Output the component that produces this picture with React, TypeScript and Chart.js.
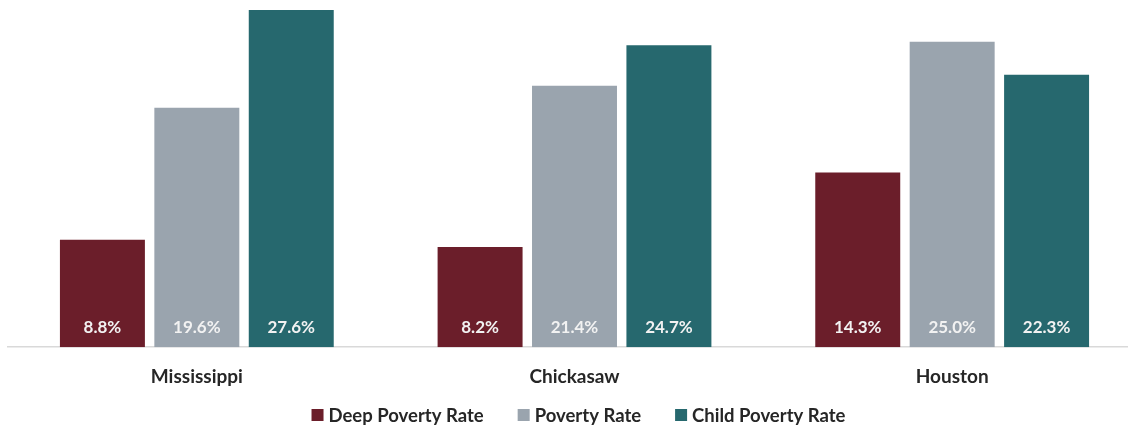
import React, { useEffect, useRef } from "react";
import { Chart, registerables } from "chart.js";

Chart.register(...registerables);

const categories = ["Mississippi", "Chickasaw", "Houston"];
const deepPoverty = [8.8, 8.2, 14.3];
const poverty = [19.6, 21.4, 25.0];
const childPoverty = [27.6, 24.7, 22.3];
const seriesNames = ["Deep Poverty Rate", "Poverty Rate", "Child Poverty Rate"];
const seriesColors = ["#6B1E2A", "#9AA4AE", "#26686E"];

const FONT = "Lato, 'Open Sans', sans-serif";

const bottomLabels = {
  id: "bottomLabels",
  afterDatasetsDraw(chart: any) {
    const ctx = chart.ctx;
    ctx.save();
    ctx.font = `bold 17px ${FONT}`;
    ctx.fillStyle = "#F2F2F2";
    ctx.textAlign = "center";
    ctx.textBaseline = "middle";
    chart.data.datasets.forEach((ds: any, i: number) => {
      const meta = chart.getDatasetMeta(i);
      meta.data.forEach((bar: any, j: number) => {
        const v = ds.data[j] as number;
        ctx.fillText(v.toFixed(1) + "%", bar.x, bar.base - 20);
      });
    });
    ctx.restore();
  },
};

const customLegend = {
  id: "customLegend",
  afterDraw(chart: any) {
    const ctx = chart.ctx;
    ctx.save();
    ctx.font = `bold 18.5px ${FONT}`;
    ctx.textBaseline = "middle";
    ctx.textAlign = "left";
    const box = 12;
    const gapBoxText = 5;
    const gapItems = 34;
    const items = chart.data.datasets.map((ds: any) => ({
      text: ds.label as string,
      color: ds.backgroundColor as string,
      w: ctx.measureText(ds.label).width,
    }));
    const total =
      items.reduce((s: number, it: any) => s + box + gapBoxText + it.w, 0) +
      gapItems * (items.length - 1);
    const cx = (chart.chartArea.left + chart.chartArea.right) / 2 + 4;
    let x = cx - total / 2;
    const y = chart.height - 12;
    items.forEach((it: any) => {
      ctx.fillStyle = it.color;
      ctx.fillRect(x, y - box / 2, box, box);
      x += box + gapBoxText;
      ctx.fillStyle = "#262626";
      ctx.fillText(it.text, x, y + 1);
      x += it.w + gapItems;
    });
    ctx.restore();
  },
};

export default function App() {
  const ref = useRef<HTMLCanvasElement>(null);
  useEffect(() => {
    document.body.style.overflow = "hidden";
    const chart = new Chart(ref.current!, {
      type: "bar",
      data: {
        labels: categories,
        datasets: [deepPoverty, poverty, childPoverty].map((d, i) => ({
          label: seriesNames[i],
          data: d,
          backgroundColor: seriesColors[i],
          barPercentage: 0.9,
          categoryPercentage: 0.75,
        })),
      },
      options: {
        animation: false,
        responsive: false,
        maintainAspectRatio: false,
        layout: { padding: { left: 8, right: 0, top: 5, bottom: 29 } },
        plugins: {
          legend: { display: false },
          tooltip: { enabled: false },
        },
        scales: {
          x: {
            grid: { display: false },
            border: { color: "#D9D9D9", width: 1.5 },
            ticks: {
              color: "#262626",
              padding: 10,
              font: { family: FONT, size: 19, weight: "bold" },
            },
          },
          y: { display: false, min: 0, max: 28 },
        },
      },
      plugins: [bottomLabels, customLegend],
    });
    return () => chart.destroy();
  }, []);
  return (
    <div style={{ position: "absolute", left: 0, top: 0 }}>
      <canvas ref={ref} width={1141} height={427} style={{ display: "block" }} />
    </div>
  );
}
